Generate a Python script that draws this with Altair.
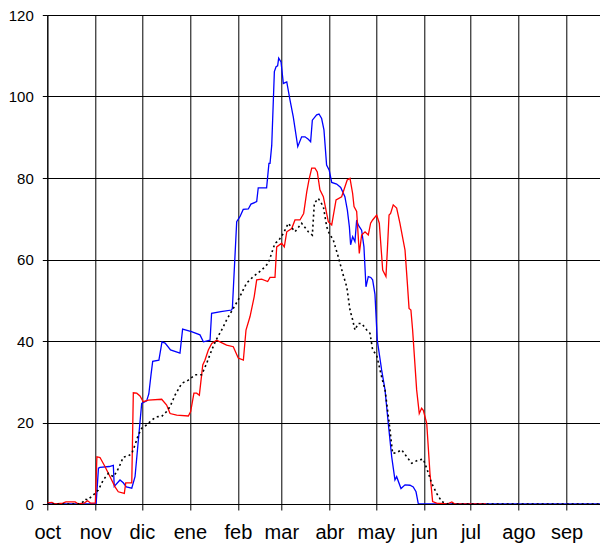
import altair as alt
import pandas as pd

# Month tick positions (days since 1 Oct) and labels
month_days = [0, 31, 61, 92, 123, 151, 182, 212, 243, 273, 304, 335]
month_labels = ["oct", "nov", "dic", "ene", "feb", "mar", "abr", "may", "jun", "jul", "ago", "sep"]
y_ticks = [0, 20, 40, 60, 80, 100, 120]

blue_days = [0, 31.5, 33, 34, 40, 42.6, 43.2, 46.9, 49, 51, 54.5, 56.6, 60.9, 64.1, 65.5, 67, 68, 72,
             74, 76, 79.5, 85.6, 87.3, 93, 98.5, 100.7, 105, 106, 112, 118.9, 119.4, 122.2, 124.3,
             126.4, 129.7, 131.4, 135.1, 136.1, 141.5, 143, 143.7, 144.8, 146.5, 147.6, 148.6, 149.3,
             150.8, 152.3, 154.5, 156.6, 158.7, 161.6, 164.1, 166.3, 168.4, 169.9, 171, 173.8, 175.3,
             177, 178.5, 180.2, 181.9, 183.5, 186.7, 189.3, 192, 193.6, 194.9, 195.7, 197, 198.5,
             199.6, 200.6, 202.8, 204.3, 205.6, 207.1, 208.7, 209.9, 211.4, 212.9, 215.7, 217.9, 220,
             222.2, 224.3, 225.4, 228.2, 230.8, 234, 236.1, 237.9, 239.4, 300, 364]
blue_vals = [0, 0, 8.8, 9.0, 9.2, 9.5, 4.3, 5.9, 5.2, 4.2, 3.9, 6.7, 24.7, 25.3, 27, 32, 35, 35.3,
             39.8, 39.5, 37.8, 37, 42.9, 42.3, 41.5, 39.8, 40.2, 46.8, 47.2, 47.6, 48, 69.3, 70.5,
             72.3, 72.4, 73.6, 74.2, 77.6, 77.6, 83.6, 83.6, 88, 106.1, 107.3, 107.5, 109.4,
             108.5, 103.2, 103.6, 99.1, 95, 87.7, 90.1, 90.1, 89.5, 88.9, 94.2, 95.5, 95.7,
             94.6, 91.8, 83.2, 81.9, 78.9, 78.5, 77.7, 75.4, 72.1, 68, 63.6, 65.6, 64.4,
             69.7, 68.5, 67.2, 63.1, 53.3, 55.8, 55.6, 55, 51.5, 40.2, 32.9, 28, 19.8,
             11.6, 5.9, 6.7, 3.8, 4.7, 4.6, 4.2, 3, 0, 0, 0]

red_days = [0, 3, 5, 10, 12, 18, 20, 24, 26, 28, 31, 32, 34, 37.2, 40.5, 43.7, 45.8, 49.7, 50.6,
            54.5, 55.5, 57.7, 59.8, 61.9, 65.2, 73.8, 77, 79.2, 83.5, 91, 92.5, 94.6, 96.4, 98.1,
            100.3, 101.7, 103.9, 106.1, 109.3, 111.4, 115.7, 120, 123.2, 126.5, 128.2, 130.8,
            133.5, 135.1, 138.3, 142.2, 143.7, 146.9, 148, 151.2, 152.9, 154.5, 157.7, 159.8, 163,
            165.4, 167.4, 168.8, 170.6, 172.7, 174.2, 175.9, 178.1, 181.3, 183.5, 186.3, 189.9,
            192.1, 193.5, 195.3, 197, 197.9, 199.6, 201.3, 202.8, 205, 207.1, 208.6, 209.9, 212.5,
            214.2, 216.4, 218.5, 219.4, 220.5, 221.5, 223.2, 225.4, 227.5, 230.8, 232.3, 233.4,
            234.6, 235.7, 238.3, 240, 241.5, 242.6, 244.8, 246.9, 248.6, 251.2, 258, 261, 263, 283]
red_vals = [0.3, 0.4, 0, 0.2, 0.5, 0.5, 0, 0.3, 0.8, 0.2, 0.3, 11.6, 11.4, 9.2, 6.7, 4.2, 3, 2.6, 5.2,
            5.2, 27.3, 27.2, 26.5, 25.1, 25.5, 25.7, 24.3, 22.2, 21.8, 21.6, 22.7, 27.2, 27.2, 26.7,
            34.1, 35.3, 37.8, 39.4, 40.2, 39.8, 39, 38.6, 35.8, 35.3, 42.7, 46,
            50.9, 55, 55.2, 54.6, 55.6, 55.6, 63.1, 64, 63.1, 66.8, 67.6, 69.7, 69.7,
            71.3, 76.6, 79.5, 82.4, 82.4, 81.5, 77.1, 75.4, 69.3, 68.5, 74.6, 75.4,
            77.9, 79.5, 79.9, 76.2, 73, 71.8, 61.5, 66, 66.8, 66, 68.9, 69.7, 70.9,
            68.9, 57.4, 55.8, 62.3, 70.9, 71.3, 73.4, 72.6, 68.9, 62.3, 54.2, 48,
            47.6, 42.7, 28, 22.2, 23.5, 23, 19.8, 7.5, 0.6, 0.2, 0, 0.5, 0, 0]

black_days = [0, 20, 23, 24.3, 26, 29.7, 32.9, 36.1, 39.4, 42.6, 44.8, 46.9, 49, 52.3, 54.5, 56.6,
              58.7, 60.9, 64.1, 67.4, 70.6, 73.8, 77, 79.2, 82.4, 86.7, 91, 95.3, 99.6, 102.8,
              106.1, 108.8, 112.5, 115.7, 120, 123.2, 128.6, 132.9, 138.3, 142.6, 146.9, 149,
              152.3, 155.5, 159.8, 164.1, 168.4, 171, 172.3, 174.8, 178.1, 180.3, 181.9, 184.5,
              187.7, 190.6, 193.2, 195.3, 197, 198.5, 200.6, 202.8, 206.1, 208.2, 209.9, 212.5,
              215.7, 217.9, 220.6, 222.8, 225.4, 228.6, 231.9, 235.1, 239.4, 242.6, 245.2, 248,
              251.2, 254.5, 258.7, 364]
black_vals = [0, 0, 0.5, 1.2, 1, 2.2, 3.4, 5.9, 7.5, 6.7, 7.9, 9.6, 11.5, 11.8, 12.4, 14.5,
              16.9, 18.6, 19.4, 20.6, 21.4, 21.5, 22.7, 23.9, 26.7, 29.6, 30.4, 31.7, 31.7, 34.5,
              37.8, 40.2, 42.7, 45.2, 48, 50.1, 54.2, 55.8, 57.4, 59.1, 64, 64.5,
              66.4, 68.9, 66.8, 68.9, 66.8, 66, 73.8, 75, 73, 68, 66.4, 64.8,
              60.7, 56.6, 53.3, 47.6, 45.2, 42.7, 44.3, 44.3, 42.7, 41.9, 37.8, 36.5,
              31.2, 28, 19.8, 12.4, 12.6, 13.3, 11.6, 10, 10.8, 11, 8.3, 5.1,
              2.6, 0.6, 0, 0]

blue_df = pd.DataFrame({"day": blue_days, "value": blue_vals})
red_df = pd.DataFrame({"day": red_days, "value": red_vals})
black_df = pd.DataFrame({"day": black_days, "value": black_vals})

label_expr = "[" + ",".join(f"'{m}'" for m in month_labels) + "][indexof([" + \
    ",".join(str(d) for d in month_days) + "], datum.value)]"

# plot spans 1.55 px per day; visible window ends at page x=600
x_enc = alt.X("day:Q",
              scale=alt.Scale(domain=[0, 356.6], nice=False, zero=False),
              axis=alt.Axis(values=month_days, labelExpr=label_expr, title=None,
                            grid=True, gridColor="#000000", gridOpacity=1, gridWidth=1,
                            domainColor="#000000", domainWidth=1,
                            tickColor="#000000", tickSize=6, tickWidth=1,
                            labelFont="Liberation Sans", labelFontSize=20,
                            labelColor="#000000", labelPadding=12, labelFlush=False,
                            labelOverlap=False))
y_enc = alt.Y("value:Q",
              scale=alt.Scale(domain=[0, 120], nice=False),
              axis=alt.Axis(values=y_ticks, title=None,
                            grid=True, gridColor="#000000", gridOpacity=1, gridWidth=1,
                            domainColor="#000000", domainWidth=1,
                            tickColor="#000000", tickSize=5, tickWidth=1,
                            labelFont="Liberation Sans", labelFontSize=15,
                            labelColor="#000000", labelPadding=9))

blue = alt.Chart(blue_df).mark_line(color="#0000ff", strokeWidth=1.3, clip=True).encode(x=x_enc, y=y_enc)
red = alt.Chart(red_df).mark_line(color="#ff0000", strokeWidth=1.3, clip=True).encode(x=x_enc, y=y_enc)
black = alt.Chart(black_df).mark_line(color="#000000", strokeWidth=1.6, strokeDash=[2, 3],
                                      clip=True).encode(x=x_enc, y=y_enc)

chart = alt.layer(blue, red, black).properties(
    width=552.7, height=489,
    autosize=alt.AutoSizeParams(type="none"),
    padding={"left": 39.3, "top": 7, "right": 0, "bottom": 40},
).configure_view(stroke=None).configure(background="#ffffff")

chart.save("out.html", embed_options={"renderer": "svg", "actions": False})
